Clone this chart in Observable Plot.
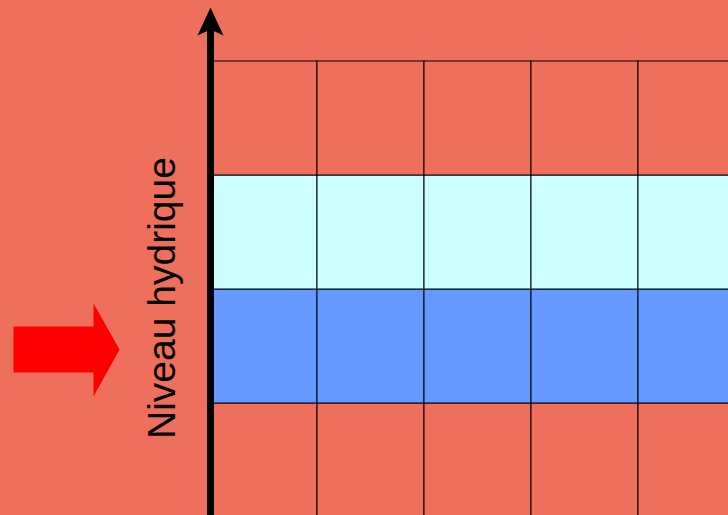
<!DOCTYPE html>
<html>
<head>
<meta charset="utf-8">
<script src="https://cdn.jsdelivr.net/npm/d3@7"></script>
<script src="https://cdn.jsdelivr.net/npm/@observablehq/plot@0.6"></script>
<style>
  html, body { margin: 0; padding: 0; background: #EF6F5D; overflow: hidden; }
  svg { display: block; }
</style>
</head>
<body>
<div id="chart"></div>
<script>
// Columns of the grid (time steps) and water-level zones (bottom to top)
const columns = [0, 1, 2, 3, 4];
const zones = ["bas", "actuel", "haut", "sommet"];
const zoneColors = ["#EF6F5D", "#6699FF", "#CCFFFF", "#EF6F5D"];
const axisLabel = "Niveau hydrique";

// Axis arrow head (in chart units)
const axisTop = 4.474;
const headX = [0, 0.1215, 0, -0.1215, 0];
const headY = [axisTop, 4.228, 4.28, 4.228, axisTop];

// Red pointer arrow outline (in chart units)
const pointerX = [-1.841, -1.093, -1.093, -0.850, -1.093, -1.093, -1.841, -1.841];
const pointerY = [1.675, 1.675, 1.877, 1.474, 1.061, 1.272, 1.272, 1.675];

const cells = [];
zones.forEach((z, r) => columns.forEach(c => cells.push({c, r, zone: z})));

const head = headX.map((x, i) => ({x, y: headY[i]}));
const pointer = pointerX.map((x, i) => ({x, y: pointerY[i]}));

const chart = Plot.plot({
  width: 728,
  height: 515,
  margin: 0,
  style: {background: "#EF6F5D", fontFamily: "'Liberation Sans', Arial, sans-serif", overflow: "hidden"},
  x: {domain: [0, 5], range: [210, 745], axis: null},
  y: {domain: [0, 4], range: [517, 61], axis: null},
  color: {domain: zones, range: zoneColors},
  marks: [
    Plot.rect(cells, {
      x1: d => d.c, x2: d => d.c + 1,
      y1: d => d.r, y2: d => d.r + 1,
      fill: d => d.zone,
      stroke: "#000", strokeWidth: 1, inset: 0
    }),
    Plot.ruleX([0], {y1: -0.2, y2: 4.3, stroke: "#000", strokeWidth: 7}),
    Plot.line(head, {x: "x", y: "y", fill: "#000", stroke: "none", curve: "linear"}),
    Plot.line(pointer, {x: "x", y: "y", fill: "#FF0000", stroke: "none", curve: "linear"}),
    Plot.text([axisLabel], {
      x: -0.336, y: 1.925, text: d => d,
      rotate: -90, fontSize: 39, fill: "#000",
      textAnchor: "middle", lineAnchor: "bottom"
    })
  ]
});
document.getElementById("chart").appendChild(chart);
</script>
</body>
</html>
